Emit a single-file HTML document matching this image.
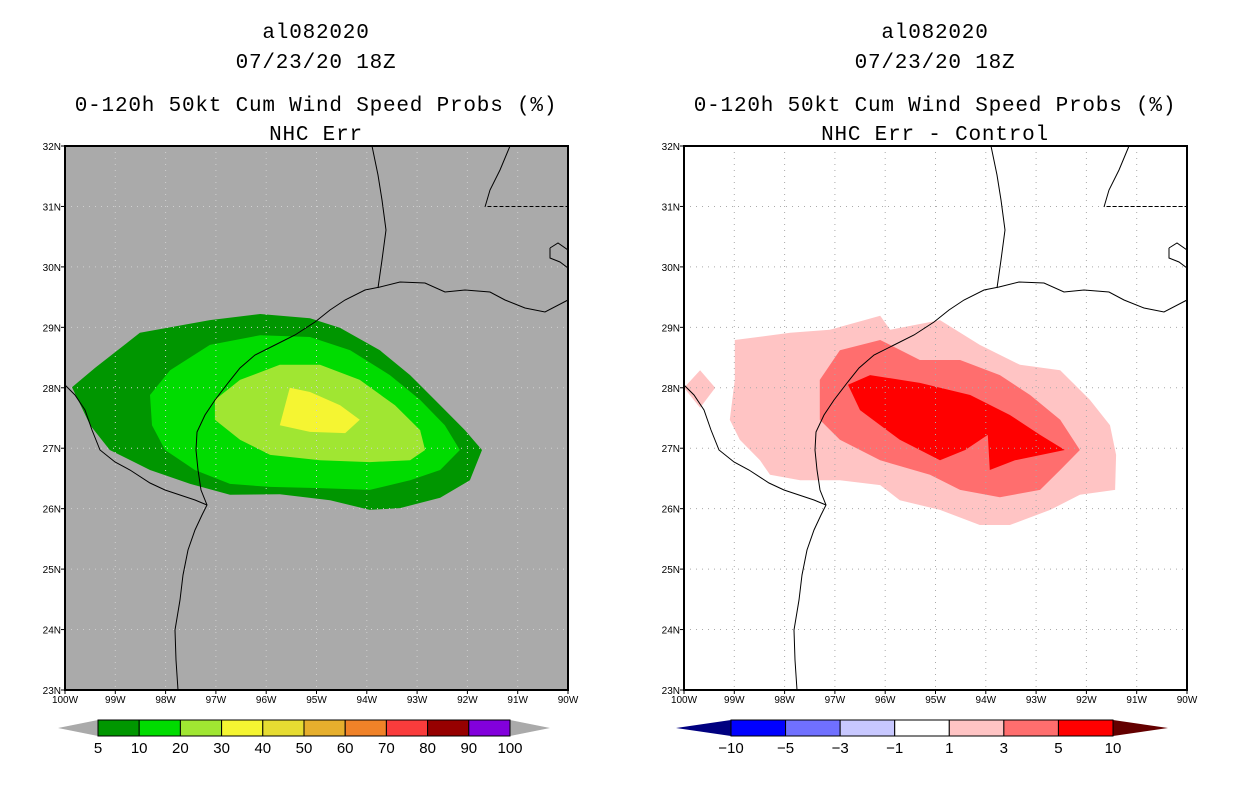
<!DOCTYPE html>
<html><head><meta charset="utf-8"><style>
html,body{margin:0;padding:0;background:#fff}
svg{display:block}
text{font-family:"Liberation Sans",sans-serif;fill:#000}
text.ttl{font-family:"Liberation Mono",monospace}
</style></head><body>
<svg id="s" width="1236" height="800" viewBox="0 0 1236 800"></svg>
<script>
// ---- data ----
const lonTicks=[-100,-99,-98,-97,-96,-95,-94,-93,-92,-91,-90];
const lonTickLabels=["100W","99W","98W","97W","96W","95W","94W","93W","92W","91W","90W"];
const latTicks=[23,24,25,26,27,28,29,30,31,32];
const latTickLabels=["23N","24N","25N","26N","27N","28N","29N","30N","31N","32N"];
const probLevels=["5","10","20","30","40","50","60","70","80","90","100"];
const probColors=["#009600","#00dc00","#a0e632","#f5f532","#e6dc32","#e6af2d","#f08228","#fa3c3c","#960000","#8200dc"];
const diffLevels=["-10","-5","-3","-1","1","3","5","10"];
const diffColors=["#0000ff","#7070ff","#c8c8ff","#ffffff","#ffc4c4","#ff6e6e","#ff0000"];
const prob5Lon=[-99.86,-99.40,-98.51,-97.12,-96.12,-95.13,-94.53,-93.74,-93.14,-92.54,-92.05,-91.71,-91.95,-92.54,-93.34,-93.94,-94.73,-95.73,-96.72,-97.51,-98.31,-99.11,-99.50];
const prob5Lat=[28.01,28.33,28.91,29.12,29.22,29.15,28.99,28.62,28.21,27.71,27.30,26.97,26.47,26.18,26.01,25.98,26.14,26.24,26.23,26.41,26.64,26.97,27.38];
const prob10Lon=[-98.31,-97.91,-97.12,-96.12,-95.13,-94.33,-93.54,-92.94,-92.45,-92.15,-92.54,-93.14,-93.94,-94.93,-95.92,-96.72,-97.42,-98.01,-98.27];
const prob10Lat=[27.88,28.29,28.71,28.87,28.84,28.62,28.21,27.80,27.38,26.97,26.64,26.47,26.31,26.34,26.36,26.41,26.64,26.97,27.38];
const prob20Lon=[-97.02,-96.52,-95.73,-94.93,-94.14,-93.44,-92.94,-92.84,-93.14,-93.94,-94.93,-95.92,-96.52,-97.02];
const prob20Lat=[27.80,28.13,28.38,28.38,28.13,27.71,27.30,26.97,26.80,26.77,26.80,26.89,27.14,27.47];
const prob30Lon=[-95.53,-95.13,-94.53,-94.14,-94.43,-95.13,-95.73];
const prob30Lat=[28.00,27.93,27.71,27.47,27.25,27.27,27.38];
const diff1Lon=[-98.99,-97.89,-97.10,-96.10,-95.90,-94.91,-94.12,-93.32,-92.52,-91.93,-91.53,-91.41,-91.43,-92.13,-92.72,-93.52,-94.12,-94.91,-95.71,-96.10,-96.90,-97.69,-98.29,-98.49,-98.89,-99.09,-98.99];
const diff1Lat=[28.79,28.91,28.96,29.19,28.96,29.12,28.71,28.38,28.29,27.80,27.38,26.89,26.31,26.23,25.98,25.73,25.73,25.98,26.14,26.39,26.47,26.47,26.56,26.80,27.14,27.47,28.13];
const diff1bLon=[-99.68,-99.38,-99.68,-100];
const diff1bLat=[28.29,28.00,27.67,28.00];
const diff3Lon=[-97.30,-96.90,-96.10,-95.31,-94.51,-93.72,-93.12,-92.52,-92.13,-92.52,-92.92,-93.72,-94.51,-95.11,-96.10,-96.90,-97.30];
const diff3Lat=[28.13,28.62,28.79,28.46,28.46,28.21,27.88,27.47,26.97,26.64,26.31,26.19,26.31,26.56,26.80,27.14,27.47];
const diff5Lon=[-96.74,-96.30,-95.31,-94.31,-93.52,-92.92,-92.43,-93.42,-93.92,-93.96,-94.41,-94.91,-95.71,-96.50];
const diff5Lat=[28.05,28.21,28.08,27.88,27.55,27.22,26.97,26.80,26.64,27.22,26.97,26.80,27.14,27.63];
// coastline / borders (pixel sketch in left-panel frame, converted to lon/lat)
const coastPx=[[178,690],[176,660],[175,630],[180,600],[183,575],[188,550],[195,530],[202,515],[207,505],[201,490],[198,470],[196,450],[197,432],[205,415],[215,400],[228,383],[240,368],[255,355],[275,345],[295,335],[315,322],[330,310],[345,300],[365,290],[380,287],[400,282],[425,283],[445,292],[465,290],[490,292],[505,300],[525,308],[545,312],[568,300]];
const borderPx=[[207,505],[195,500],[180,495],[165,490],[150,483],[130,470],[115,462],[100,450],[92,430],[85,410],[75,395],[65,385]];
const sabinePx=[[378,288],[382,260],[386,230],[382,200],[378,175],[372,146]];
const laPx=[[485,207],[490,190],[500,170],[510,146]];
const la2Px=[[550,248],[558,243],[568,250],[568,268],[560,262],[550,258],[550,248]];

const s=document.getElementById('s');
const NS='http://www.w3.org/2000/svg';
function mk(tag,attrs,parent){const e=document.createElementNS(NS,tag);for(const k in attrs)e.setAttribute(k,attrs[k]);(parent||s).appendChild(e);return e;}
const T=146,B=690,W=503;
function px2ll(p){return [-100+(p[0]-65)/50.3, 32-(p[1]-146)/60.44];}

function panel(x0,bg,gridCol,idx){
  const X=lon=>x0+(lon+100)/10*W;
  const Y=lat=>B-(lat-23)/9*(B-T);
  const g=mk('g',{});
  
  
  mk('rect',{x:x0,y:T,width:W,height:B-T,fill:bg},g);
  function poly(lons,lats,col,name){
    const pts=lons.map((l,i)=>X(l).toFixed(1)+','+Y(lats[i]).toFixed(1)).join(' ');
    const p=mk('polygon',{points:pts,fill:col},g);
    
    
  }
  if(idx===0){
    poly(prob5Lon,prob5Lat,probColors[0],'contour-5pct');
    poly(prob10Lon,prob10Lat,probColors[1],'contour-10pct');
    poly(prob20Lon,prob20Lat,probColors[2],'contour-20pct');
    poly(prob30Lon,prob30Lat,probColors[3],'contour-30pct');
  } else {
    poly(diff1Lon,diff1Lat,diffColors[4],'contour-diff-1');
    poly(diff1bLon,diff1bLat,diffColors[4],'contour-diff-1-small');
    poly(diff3Lon,diff3Lat,diffColors[5],'contour-diff-3');
    poly(diff5Lon,diff5Lat,diffColors[6],'contour-diff-5');
  }
  lonTicks.slice(1,-1).forEach(l=>mk('line',{x1:X(l),x2:X(l),y1:T,y2:B,stroke:gridCol,'stroke-width':1,'stroke-dasharray':'1,5'},g));
  latTicks.slice(1,-1).forEach(l=>mk('line',{x1:x0,x2:x0+W,y1:Y(l),y2:Y(l),stroke:gridCol,'stroke-width':1,'stroke-dasharray':'1,5'},g));
  function line(arr,name,dash){
    const pts=arr.map(p=>{const ll=px2ll(p);return X(ll[0]).toFixed(1)+','+Y(ll[1]).toFixed(1);}).join(' ');
    const a={points:pts,fill:'none',stroke:'#000','stroke-width':1};
    if(dash)a['stroke-dasharray']=dash;
    const e=mk('polyline',a,g);
    
    
  }
  line(coastPx,'coastline');line(borderPx,'mexico-border');line(sabinePx,'state-border');line(laPx,'state-border-2');line(la2Px,'coast-la');
  mk('line',{x1:X(-91.6),x2:x0+W,y1:Y(31),y2:Y(31),stroke:'#000','stroke-width':1,'stroke-dasharray':'4,2'},g);
  mk('rect',{x:x0,y:T,width:W,height:B-T,fill:'none',stroke:'#000','stroke-width':2},g);
  lonTicks.forEach((l,i)=>{
    mk('line',{x1:X(l),x2:X(l),y1:B,y2:B+4,stroke:'#000'},g);
    const t=mk('text',{x:X(l),y:B+13,'font-size':10,'text-anchor':'middle'},g);t.textContent=lonTickLabels[i];
    
  });
  latTicks.forEach((l,i)=>{
    mk('line',{x1:x0-4,x2:x0,y1:Y(l),y2:Y(l),stroke:'#000'},g);
    const t=mk('text',{x:x0-4,y:Y(l)+4,'font-size':10,'text-anchor':'end'},g);t.textContent=latTickLabels[i];
    
  });
}
panel(65,'#aaaaaa','#d0d0d0',0);
panel(684,'#ffffff','#aaaaaa',1);

function titles(cx,sub){
  [['al082020',38],['07/23/20 18Z',68],['0-120h 50kt Cum Wind Speed Probs (%)',111],[sub,140]].forEach((r,i)=>{
    const t=mk('text',{x:cx,y:r[1],'font-size':21,'text-anchor':'middle','class':'ttl','letter-spacing':'0.8'});t.textContent=r[0];
    
  });
}
titles(316,'NHC Err');titles(935,'NHC Err - Control');

function colorbar(x0,x1,tri,cols,labels,lowCol,highCol,name){
  const g=mk('g',{});
  const y0=720,y1=736,ym=728,n=cols.length,w=(x1-x0)/n;
  mk('polygon',{points:`${x0-tri},${ym} ${x0},${y0} ${x0},${y1}`,fill:lowCol},g);
  mk('polygon',{points:`${x1+tri},${ym} ${x1},${y0} ${x1},${y1}`,fill:highCol},g);
  cols.forEach((c,i)=>{const r=mk('rect',{x:x0+i*w,y:y0,width:w,height:y1-y0,fill:c,stroke:'#000','stroke-width':1},g);
    });
  labels.forEach((l,i)=>{const t=mk('text',{x:x0+i*w,y:753,'font-size':15,'text-anchor':'middle'},g);t.textContent=l.replace('-','\u2212');});
}
colorbar(98,510,40,probColors,probLevels,'#aaaaaa','#aaaaaa','prob-colorbar');
colorbar(731,1113,55,diffColors,diffLevels,'#000080','#640000','diff-colorbar');
</script>
</body></html>
